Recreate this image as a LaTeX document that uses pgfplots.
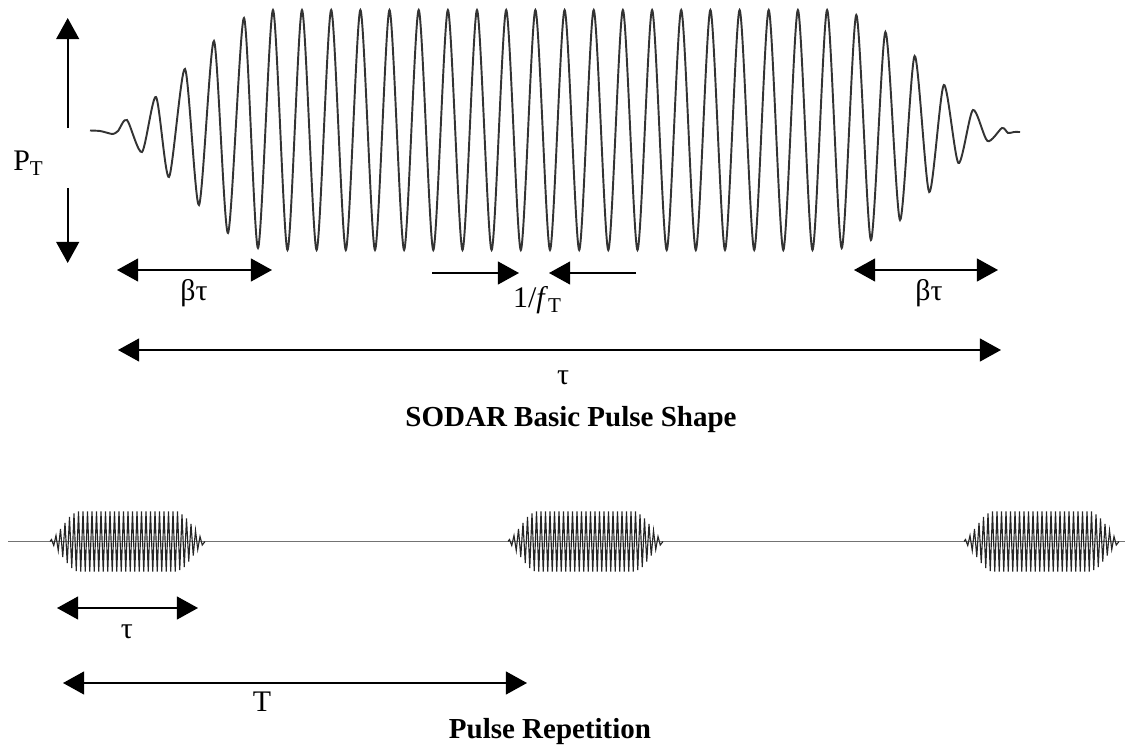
\documentclass[border=0pt]{standalone}
\usepackage{fontspec}
\setmainfont{Liberation Serif}
\usepackage{pgfplots}
\usepackage{pgfplotstable}
\pgfplotsset{compat=1.18}
\usetikzlibrary{arrows.meta}

\pgfplotstableread{
x y
90 130.5
100 131
108 133
113 134
118 131
127 120
142 152
156 97
169 177
185 69
199 205
214 41
228 233
244 18
258 248
273 10
287.5 250
302 10
316.6 250
331.2 10
345.8 250
360.4 10
375 250
389.5 10
404.1 250
418.7 10
433.3 250
447.9 10
462.5 250
477 10
491.6 250
506.2 10
520.8 250
535.4 10
550 250
564.6 10
579.2 250
593.7 10
608.3 250
622.9 10
637.5 250
652.1 10
666.7 250
681.2 10
695.8 250
710.4 10
725 250
739.6 10
754.2 250
768.7 10
783.3 250
797.9 10
812.5 250
827.1 10
841.7 248
856.3 15
870.9 240
885.4 32
900 220
914.6 56
929.2 192
943.8 85
958.4 163
972.9 110
987.5 141
1002 128
1008 133
1014 132
1020 132
}\topwave

\pgfplotstableread{
x y
0 541.5
1.5 539.5
3.75 545.5
6 535.5
8.25 550.5
10.5 529
12.75 557
15 523
17.25 563
19.5 517
21.75 568
24 513.5
26.25 571
28.5 511.5
30.75 571.5
33 511.5
35.25 571.5
37.5 511.5
39.75 571.5
42 511.5
44.25 571.5
46.5 511.5
48.75 571.5
51 511.5
53.25 571.5
55.5 511.5
57.75 571.5
60 511.5
62.25 571.5
64.5 511.5
66.75 571.5
69 511.5
71.25 571.5
73.5 511.5
75.75 571.5
78 511.5
80.25 571.5
82.5 511.5
84.75 571.5
87 511.5
89.25 571.5
91.5 511.5
93.75 571.5
96 511.5
98.25 571.5
100.5 511.5
102.75 571.5
105 511.5
107.25 571.5
109.5 511.5
111.75 571.5
114 511.5
116.25 571.5
118.5 511.5
120.75 571.5
123 511.5
125.25 571.5
127.5 511.5
129.75 570
132 514.5
134.25 567
136.5 518.5
138.75 561.5
141 524
143.25 555.5
145.5 530.5
147.75 549.5
150 536.5
152.25 545
155 541.5
}\pulse

\begin{document}
\begin{tikzpicture}
\begin{axis}[name=ax,
  x=0.2mm, y=0.2mm, y dir=reverse,
  xmin=0, xmax=1125, ymin=0, ymax=747,
  hide axis, clip=false]
% baseline of pulse train
\addplot[black!55, line width=1pt] coordinates {(8,541.5) (1125,541.5)};
% pulse train
\addplot[black!85, line width=0.65pt] table[x expr=\thisrow{x}+50, y=y] {\pulse};
\addplot[black!85, line width=0.65pt] table[x expr=\thisrow{x}+508, y=y] {\pulse};
\addplot[black!85, line width=0.65pt] table[x expr=\thisrow{x}+964, y=y] {\pulse};
% basic pulse shape
\addplot[black!80, line width=1.1pt, smooth, tension=0.45] table[x=x, y=y] {\topwave};

% annotation arrows
\begin{scope}[line width=1pt, >={Triangle[length=12pt,width=13pt]}]
\draw[->] (axis cs:67.7,128) -- (axis cs:67.7,18);
\draw[->] (axis cs:67.7,188) -- (axis cs:67.7,263);
\draw[<->] (axis cs:117,270) -- (axis cs:272,270);
\draw[<->] (axis cs:854,270) -- (axis cs:998,270);
\draw[->] (axis cs:432,273) -- (axis cs:519,273);
\draw[->] (axis cs:636,273) -- (axis cs:549,273);
\draw[<->] (axis cs:118,350) -- (axis cs:1001,350);
\draw[<->] (axis cs:57,608) -- (axis cs:198,608);
\draw[<->] (axis cs:63,683) -- (axis cs:527,683);
\end{scope}

\begin{scope}[every node/.style={inner sep=0pt, font=\fontsize{17}{19}\selectfont}]
\node at (axis cs:28,163) {P\raisebox{-0.35ex}{\fontsize{12}{13}\selectfont T}};
\node at (axis cs:194,293) {βτ};
\node at (axis cs:929,293) {βτ};
\node at (axis cs:537,300) {1/\textit{f}\raisebox{-0.35ex}{\fontsize{12}{13}\selectfont T}};
\node at (axis cs:563,378) {τ};
\node[font=\bfseries\fontsize{16.5}{18}\selectfont] at (axis cs:571,420) {SODAR Basic Pulse Shape};
\node at (axis cs:127,632) {τ};
\node at (axis cs:262,702) {T};
\node[font=\bfseries\fontsize{16.5}{18}\selectfont] at (axis cs:550,732) {Pulse Repetition};
\end{scope}
\end{axis}
\pgfresetboundingbox
\path (ax.south west) rectangle (ax.north east);
\end{tikzpicture}
\end{document}
